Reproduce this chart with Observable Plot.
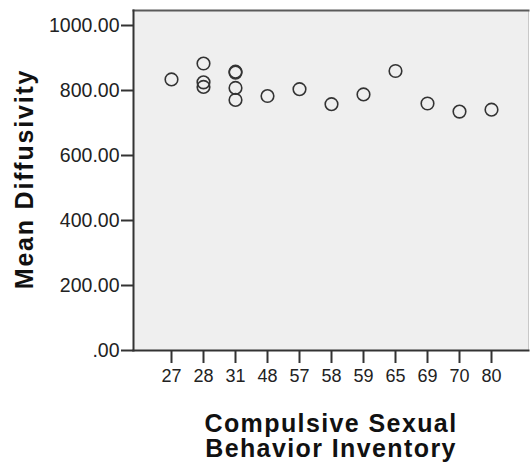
<!DOCTYPE html>
<html>
<head>
<meta charset="utf-8">
<script src="https://cdn.jsdelivr.net/npm/d3@7"></script>
<script src="https://cdn.jsdelivr.net/npm/@observablehq/plot@0.6"></script>
<style>
  html, body { margin: 0; padding: 0; background: #fff; }
  svg { display: block; font-family: "Liberation Sans", Arial, sans-serif; }
  .title text { letter-spacing: 1.4px; }
  .ytitle text { letter-spacing: 1.8px; }
</style>
</head>
<body>
<div id="chart"></div>
<script>
// Categories on the x axis (Compulsive Sexual Behavior Inventory scores)
const categories = ["27", "28", "31", "48", "57", "58", "59", "65", "69", "70", "80"];
// One entry per observed point
const cbiScore = ["27", "28", "28", "28", "31", "31", "31", "31", "48", "57", "58", "59", "65", "69", "70", "80"];
const meanDiffusivity = [834, 883, 825, 811, 858, 855, 808, 771, 783, 804, 758, 788, 860, 760, 735, 741];
const yTicks = [0, 200, 400, 600, 800, 1000];
const xTitleLines = ["Compulsive Sexual", "Behavior Inventory"];
const yTitle = "Mean Diffusivity";

const data = cbiScore.map((c, i) => ({cbi: c, md: meanDiffusivity[i]}));

const chart = Plot.plot({
  width: 530,
  height: 467,
  marginLeft: 133,
  marginRight: 2,
  marginTop: 10,
  marginBottom: 117,
  style: {fontFamily: "'Liberation Sans', Arial, sans-serif", background: "#fff"},
  x: {type: "point", domain: categories, padding: 1.05, axis: null},
  y: {domain: [0, 1046.15], axis: null},
  marks: [
    Plot.frame({fill: "#efefef", stroke: "#c8c8c8", strokeWidth: 1}),
    Plot.frame({anchor: "top", stroke: "#5a5a5a", strokeWidth: 2}),
    Plot.frame({anchor: "left", stroke: "#333", strokeWidth: 2}),
    Plot.frame({anchor: "bottom", stroke: "#333", strokeWidth: 2}),
    Plot.axisY({
      ticks: yTicks, tickSize: 12, tickPadding: 2, strokeWidth: 2, stroke: "#333",
      tickFormat: d => d === 0 ? ".00" : d.toFixed(2),
      fontSize: 19.5, fill: "#222", label: null
    }),
    Plot.axisX({
      tickSize: 13, tickPadding: 6, strokeWidth: 2, stroke: "#333",
      fontSize: 18, fill: "#222", label: null
    }),
    Plot.dot(data, {x: "cbi", y: "md", r: 6.3, stroke: "#333", strokeWidth: 1.6, fill: "none"}),
    Plot.text([xTitleLines[0]], {className: "title", frameAnchor: "bottom", dy: 73, text: d => d, fontSize: 25, fontWeight: "bold", fill: "#111", lineAnchor: "middle"}),
    Plot.text([xTitleLines[1]], {className: "title", frameAnchor: "bottom", dy: 98.5, text: d => d, fontSize: 25, fontWeight: "bold", fill: "#111", lineAnchor: "middle"}),
    Plot.text([yTitle], {className: "ytitle", frameAnchor: "left", dx: -109, dy: -1.5, rotate: -90, textAnchor: "middle", lineAnchor: "middle", text: d => d, fontSize: 25, fontWeight: "bold", fill: "#111"})
  ]
});
document.getElementById("chart").appendChild(chart);
</script>
</body>
</html>
